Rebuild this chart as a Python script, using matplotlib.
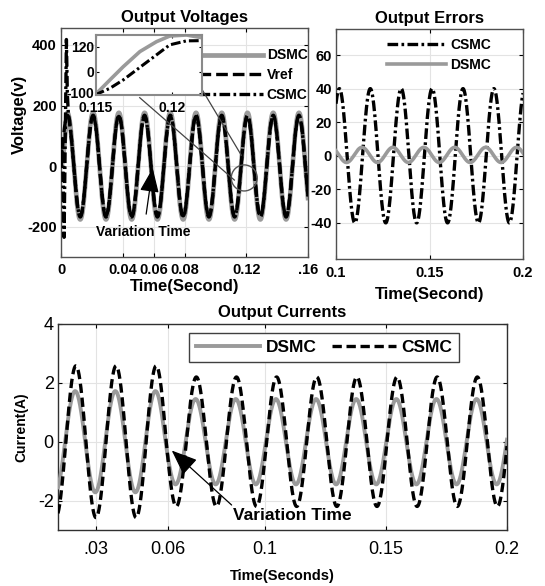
import numpy as np
import matplotlib
matplotlib.use("Agg")
import matplotlib.pyplot as plt
from matplotlib.patches import Ellipse
from matplotlib.lines import Line2D

plt.rcParams['font.family'] = ['Liberation Sans', 'DejaVu Sans']
plt.rcParams['axes.unicode_minus'] = False

# ---------------- data ----------------
# Output voltages (main panel)
volt_freq = 60.0           # Hz
volt_peak_time = 0.0208    # s, time of a positive peak
volt_amp_dsmc = 176.0
volt_amp_vref = 168.0
volt_amp_csmc = 164.0
# CSMC start-up transient (time s, voltage V)
csmc_start_t = [0.0, 0.0008, 0.0014, 0.0020, 0.0027, 0.0035, 0.0041, 0.0048, 0.0056]
csmc_start_v = [0.0, 90.0, -60.0, -235.0, 60.0, 418.0, 240.0, 170.0, 150.0]

# Zoomed inset (time s, voltage V)
inset_t = [0.11493, 0.11592, 0.11680, 0.11790, 0.11899, 0.11987, 0.12097, 0.12184]
inset_dsmc = [-110, -38, 25, 97, 144, 171, 176, 165]
inset_csmc = [-110, -78, -38, 22, 81, 129, 148, 149]

# Output errors
err_freq = 60.5
err_csmc_amp = 40.0
err_csmc_peak = 0.1018
err_dsmc_amp = 4.5
err_dsmc_offset = 0.5
err_dsmc_peak = 0.1139

# Output currents
cur_freq = 60.3
cur_peak_time = 0.0219
cur_dsmc_peak_time = 0.0216
cur_switch_time = 0.059
cur_csmc_amp_before, cur_csmc_amp_after = 2.58, 2.2
cur_dsmc_amp_before, cur_dsmc_amp_after = 1.72, 1.45

volt_ticks = [0, 0.04, 0.06, 0.08, 0.12, 0.16]
volt_tick_labels = ['0', '0.04', '0.06', '0.08', '0.12', '.16']
cur_ticks = [0.03, 0.06, 0.1, 0.15, 0.2]
cur_tick_labels = ['.03', '0.06', '0.1', '0.15', '0.2']

GREY = '#9a9a9a'
GRID = '#e3e3e3'
SPINE = '#505050'


def cosw(t, amp, tpk, f):
    return amp * np.cos(2 * np.pi * f * (t - tpk))


fig = plt.figure(figsize=(5.45, 5.86), dpi=100)

def style(ax, bold=True, size=10.5, xpad=3):
    ax.tick_params(direction='in', top=True, right=True, length=3, width=0.8,
                   labelsize=size, pad=3, colors='k')
    ax.tick_params(axis='x', pad=xpad)
    for s in ax.spines.values():
        s.set_color(SPINE)
        s.set_linewidth(1.0)
    if bold:
        for lab in ax.get_xticklabels() + ax.get_yticklabels():
            lab.set_fontweight('bold')
    ax.grid(True, color=GRID, lw=0.8)
    ax.set_axisbelow(True)

# ---------------- Output Voltages ----------------
axv = fig.add_axes([61/545, 1-257/586, 247/545, 229/586])
tv = np.linspace(0, 0.16, 4000)
v_dsmc = cosw(tv, volt_amp_dsmc, volt_peak_time, volt_freq) * np.clip(tv / 0.004, 0, 1)
v_ref = cosw(tv, volt_amp_vref, volt_peak_time, volt_freq)
tail = tv > csmc_start_t[-1]
t_csmc = np.concatenate([csmc_start_t, tv[tail]])
v_csmc = np.concatenate([csmc_start_v, cosw(tv[tail], volt_amp_csmc, volt_peak_time, volt_freq)])

axv.plot(tv, v_dsmc, color=GREY, lw=3.4, label='DSMC', zorder=2)
axv.plot(tv, v_ref, color='k', lw=2.4, dashes=(3.5, 1.5), label='Vref', zorder=3)
axv.plot(t_csmc, v_csmc, color='k', lw=2.4, dashes=(3.2, 1.0, 0.8, 1.0), label='CSMC', zorder=4)
axv.set_xlim(0, 0.16)
axv.set_ylim(-300, 456)
axv.set_xticks(volt_ticks)
axv.set_xticklabels(volt_tick_labels)
axv.set_yticks([-200, 0, 200, 400])
style(axv, xpad=4)
axv.set_title('Output Voltages', fontsize=12, fontweight='bold', pad=4)
axv.set_xlabel('Time(Second)', fontsize=12, fontweight='bold', labelpad=2)
axv.set_ylabel('Voltage(v)', fontsize=12, fontweight='bold')
axv.yaxis.set_label_coords(-0.138, 0.624)
leg = axv.legend(loc='upper right', bbox_to_anchor=(1.02, 0.935), frameon=False,
                 prop={'weight': 'bold', 'size': 10}, handlelength=4.6,
                 handletextpad=0.25, labelspacing=0.42, borderaxespad=0)
axv.annotate('Variation Time', xy=(0.0594, -7), xytext=(0.0535, -218),
             ha='center', va='center', fontsize=10, fontweight='bold',
             arrowprops=dict(arrowstyle='-|>,head_width=0.4,head_length=1.0',
                             color='k', lw=0.9, mutation_scale=15, shrinkA=6, shrinkB=0),
             zorder=6)
axv.add_patch(Ellipse((0.1187, -39), 0.0168, 86, fill=False, ec='#555555', lw=1.0, zorder=6))
axv.add_line(Line2D([0.051, 0.1123], [226, -46], color='#444444', lw=0.9, zorder=6))
axv.add_line(Line2D([0.091, 0.1168], [256, 36], color='#444444', lw=0.9, zorder=6))

# inset
axi = fig.add_axes([96/545, 1-95/586, 106/545, 60/586])
axi.plot(inset_t, inset_dsmc, color=GREY, lw=2.6)
axi.plot(inset_t, inset_csmc, color='k', lw=2.2, dashes=(3.2, 1.0, 0.8, 1.0))
axi.set_xlim(0.115, 0.122)
axi.set_ylim(-110, 176)
axi.set_xticks([0.115, 0.12])
axi.set_xticklabels(['0.115', '0.12'])
axi.set_yticks([-100, 0, 120])
axi.set_yticklabels(['-100', '0', '120'])
axi.tick_params(direction='in', top=True, right=True, length=2, labelsize=10, pad=1)
axi.tick_params(axis='x', pad=4)
for lab in axi.get_xticklabels() + axi.get_yticklabels():
    lab.set_fontweight('bold')
for s in axi.spines.values():
    s.set_color('#8a8a8a')
    s.set_linewidth(1.5)

# ---------------- Output Errors ----------------
axe = fig.add_axes([336/545, 1-259/586, 187/545, 230/586])
te = np.linspace(0.1, 0.2, 2000)
e_csmc = cosw(te, err_csmc_amp, err_csmc_peak, err_freq)
e_dsmc = cosw(te, err_dsmc_amp, err_dsmc_peak, err_freq) + err_dsmc_offset
axe.plot(te, e_csmc, color='k', lw=2.4, dashes=(3.2, 1.0, 0.8, 1.0), label='CSMC', zorder=3)
axe.plot(te, e_dsmc, color=GREY, lw=2.6, label='DSMC', zorder=4)
axe.set_xlim(0.1, 0.2)
axe.set_ylim(-61.5, 75.5)
axe.set_xticks([0.1, 0.15, 0.2])
axe.set_xticklabels(['0.1', '0.15', '0.2'])
axe.set_yticks([-40, -20, 0, 20, 40, 60])
style(axe, xpad=5)
axe.set_title('Output Errors', fontsize=12, fontweight='bold', pad=4)
axe.set_xlabel('Time(Second)', fontsize=12, fontweight='bold', labelpad=5)
axe.legend(loc='upper right', bbox_to_anchor=(0.86, 0.985), frameon=False,
           prop={'weight': 'bold', 'size': 10}, handlelength=4.3,
           handletextpad=0.3, labelspacing=0.45, borderaxespad=0)

# ---------------- Output Currents ----------------
axc = fig.add_axes([58/545, 1-530/586, 449/545, 206/586])
tc = np.linspace(0.0145, 0.2, 4000)
amp_c = np.where(tc < cur_switch_time, cur_csmc_amp_before, cur_csmc_amp_after)
amp_d = np.where(tc < cur_switch_time, cur_dsmc_amp_before, cur_dsmc_amp_after)
i_csmc = amp_c * np.cos(2 * np.pi * cur_freq * (tc - cur_peak_time))
i_dsmc = amp_d * np.cos(2 * np.pi * cur_freq * (tc - cur_dsmc_peak_time))
axc.plot(tc, i_dsmc, color=GREY, lw=2.8, label='DSMC', zorder=3)
axc.plot(tc, i_csmc, color='k', lw=2.4, dashes=(2.8, 1.4), label='CSMC', zorder=4)
axc.set_xlim(0.0145, 0.2)
axc.set_ylim(-3, 4)
axc.set_xticks(cur_ticks)
axc.set_xticklabels(cur_tick_labels)
axc.set_yticks([-2, 0, 2, 4])
style(axc, bold=False, size=13, xpad=8)
for s in axc.spines.values():
    s.set_color('#303030')
axc.set_title('Output Currents', fontsize=12, fontweight='bold', pad=5)
axc.set_xlabel('Time(Seconds)', fontsize=10.5, fontweight='bold', labelpad=8)
axc.set_ylabel('Current(A)', fontsize=10, fontweight='bold')
axc.yaxis.set_label_coords(-0.0668, 0.5)
lc = axc.legend(loc='upper left', bbox_to_anchor=(131/449, 1-9/206), ncol=2,
                prop={'weight': 'bold', 'size': 12.5}, handlelength=3.7,
                handletextpad=0.3, columnspacing=0.9, borderaxespad=0,
                fancybox=False, framealpha=1, borderpad=0.4)
lc.get_frame().set_edgecolor('#404040')
lc.get_frame().set_linewidth(1.0)
axc.annotate('Variation Time', xy=(0.0615, -0.3), xytext=(0.1112, -2.5),
             ha='center', va='center', fontsize=12.5, fontweight='bold',
             arrowprops=dict(arrowstyle='-|>,head_width=0.4,head_length=1.0',
                             color='k', lw=0.9, mutation_scale=16,
                             shrinkA=0, shrinkB=0, relpos=(0.03, 0.9)),
             zorder=6)

fig.savefig('out.png', dpi=100)
